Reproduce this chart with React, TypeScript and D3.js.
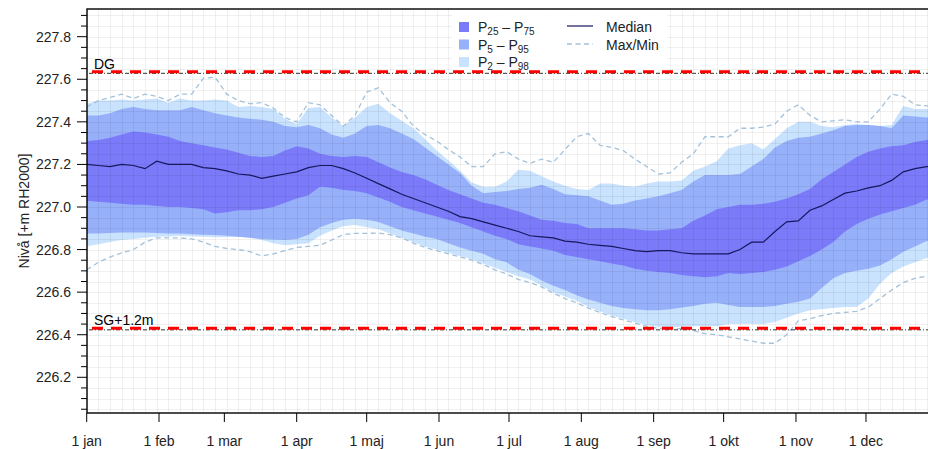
import React, { useRef, useEffect } from 'react';
import * as d3 from 'd3';

// day of year (0 = 1 jan), one sample every 5 days
const days = [
  0, 5, 10, 15, 20, 25, 30, 35, 40, 45, 50, 55, 60, 65, 70, 75, 80, 85, 90, 95,
  100, 105, 110, 115, 120, 125, 130, 135, 140, 145, 150, 155, 160, 165, 170, 175, 180, 185, 190, 195,
  200, 205, 210, 215, 220, 225, 230, 235, 240, 245, 250, 255, 260, 265, 270, 275, 280, 285, 290, 295,
  300, 305, 310, 315, 320, 325, 330, 335, 340, 345, 350, 355, 360, 365,
];

const median = [
  227.2, 227.195, 227.19, 227.2, 227.195, 227.18, 227.215, 227.2, 227.2, 227.2,
  227.185, 227.18, 227.17, 227.155, 227.15, 227.135, 227.145, 227.155, 227.165, 227.185,
  227.195, 227.195, 227.18, 227.16, 227.135, 227.11, 227.085, 227.06, 227.04, 227.02,
  227.0, 226.98, 226.955, 226.945, 226.93, 226.915, 226.9, 226.885, 226.865, 226.86,
  226.855, 226.84, 226.835, 226.825, 226.82, 226.815, 226.805, 226.795, 226.79, 226.795,
  226.795, 226.785, 226.78, 226.78, 226.78, 226.78, 226.8, 226.835, 226.835, 226.885,
  226.93, 226.935, 226.985, 227.005, 227.035, 227.065, 227.075, 227.09, 227.1, 227.125,
  227.165, 227.18, 227.19, 227.19,
];

const p75 = [
  227.31, 227.315, 227.325, 227.34, 227.355, 227.35, 227.34, 227.33, 227.31, 227.3,
  227.29, 227.28, 227.27, 227.255, 227.24, 227.235, 227.24, 227.265, 227.285, 227.275,
  227.25, 227.24, 227.235, 227.24, 227.235, 227.21, 227.185, 227.165, 227.15, 227.13,
  227.105, 227.08, 227.06, 227.04, 227.02, 227.01, 226.995, 226.98, 226.96, 226.94,
  226.935, 226.925, 226.92, 226.9, 226.9, 226.9, 226.9, 226.895, 226.89, 226.89,
  226.895, 226.9, 226.935, 226.96, 226.99, 227.0, 227.01, 227.01, 227.015, 227.025,
  227.04, 227.06, 227.085, 227.13, 227.165, 227.2, 227.235, 227.26, 227.275, 227.285,
  227.29, 227.305, 227.315, 227.32,
];

const p25 = [
  227.03, 227.025, 227.02, 227.015, 227.01, 227.01, 227.005, 227.0, 227.0, 226.995,
  226.99, 226.97, 226.975, 226.985, 226.985, 226.99, 227.0, 227.02, 227.04, 227.055,
  227.095, 227.09, 227.08, 227.075, 227.065, 227.045, 227.025, 227.0, 226.985, 226.97,
  226.955, 226.94, 226.925, 226.905, 226.885, 226.865, 226.85, 226.825, 226.815, 226.805,
  226.795, 226.775, 226.765, 226.755, 226.745, 226.735, 226.725, 226.71, 226.7, 226.695,
  226.69, 226.68, 226.675, 226.67, 226.675, 226.69, 226.685, 226.69, 226.695, 226.705,
  226.72, 226.745, 226.77, 226.8, 226.835, 226.885, 226.92, 226.945, 226.965, 226.98,
  226.995, 227.01, 227.035, 227.04,
];

const p95 = [
  227.43, 227.43, 227.44, 227.46, 227.47, 227.46, 227.455, 227.455, 227.455, 227.47,
  227.455, 227.44, 227.43, 227.42, 227.415, 227.41, 227.4, 227.38, 227.375, 227.385,
  227.37, 227.34, 227.325, 227.345, 227.38, 227.385, 227.37, 227.345, 227.32, 227.28,
  227.24, 227.2, 227.16, 227.1, 227.065, 227.07, 227.075, 227.085, 227.09, 227.105,
  227.085, 227.06, 227.055, 227.05, 227.03, 227.01, 227.015, 227.03, 227.04, 227.05,
  227.065, 227.08, 227.12, 227.15, 227.15, 227.15, 227.155, 227.19, 227.225, 227.28,
  227.31, 227.325, 227.33, 227.345, 227.36, 227.38, 227.385, 227.385, 227.38, 227.37,
  227.43, 227.425, 227.42, 227.42,
];

const p5 = [
  226.875, 226.875, 226.878, 226.88, 226.88, 226.88, 226.878, 226.875, 226.875, 226.872,
  226.87, 226.868, 226.865, 226.86, 226.855, 226.85, 226.847, 226.845, 226.85, 226.87,
  226.905, 226.925, 226.94, 226.945, 226.94, 226.93, 226.91, 226.89, 226.875, 226.86,
  226.85, 226.83, 226.81, 226.795, 226.78, 226.755, 226.74, 226.705, 226.685, 226.655,
  226.63, 226.61, 226.585, 226.565, 226.55, 226.535, 226.525, 226.52, 226.515, 226.515,
  226.52, 226.528, 226.535, 226.545, 226.55, 226.54, 226.53, 226.53, 226.53, 226.535,
  226.545, 226.555, 226.57, 226.62, 226.665, 226.69, 226.7, 226.71, 226.725, 226.755,
  226.79, 226.815, 226.84, 226.85,
];

const p98 = [
  227.485, 227.5, 227.5, 227.505, 227.5, 227.505, 227.51, 227.49, 227.51, 227.5,
  227.5, 227.505, 227.5, 227.47, 227.475, 227.47, 227.46, 227.415, 227.39, 227.465,
  227.47, 227.42, 227.38, 227.42, 227.47, 227.485, 227.44, 227.405, 227.37, 227.32,
  227.265, 227.22, 227.17, 227.115, 227.095, 227.095, 227.12, 227.175, 227.17, 227.145,
  227.12, 227.1, 227.085, 227.08, 227.11, 227.11, 227.1, 227.095, 227.11, 227.12,
  227.12, 227.125, 227.17, 227.19, 227.215, 227.275, 227.29, 227.3, 227.27, 227.32,
  227.37, 227.4, 227.4, 227.38, 227.375, 227.385, 227.39, 227.385, 227.38, 227.385,
  227.475, 227.46, 227.46, 227.46,
];

const p2 = [
  226.815, 226.825, 226.835, 226.845, 226.85, 226.855, 226.86, 226.862, 226.865, 226.862,
  226.86, 226.858, 226.858, 226.86, 226.855, 226.845, 226.83, 226.82, 226.825, 226.83,
  226.865, 226.89, 226.91, 226.915, 226.905, 226.895, 226.875, 226.855, 226.835, 226.815,
  226.8, 226.785, 226.77, 226.755, 226.735, 226.715, 226.695, 226.675, 226.66, 226.63,
  226.6, 226.58, 226.56, 226.53, 226.51, 226.49, 226.475, 226.46, 226.445, 226.437,
  226.435, 226.437, 226.44, 226.44, 226.44, 226.45, 226.45, 226.45, 226.45, 226.46,
  226.48, 226.5, 226.515, 226.52, 226.525, 226.53, 226.53, 226.57, 226.64, 226.69,
  226.72, 226.74, 226.76, 226.765,
];

const maxLevel = [
  227.47, 227.5, 227.515, 227.53, 227.51, 227.53, 227.52, 227.5, 227.53, 227.53,
  227.605, 227.61, 227.53, 227.5, 227.485, 227.49, 227.465, 227.42, 227.4, 227.49,
  227.48, 227.43, 227.38, 227.43, 227.54, 227.56, 227.49, 227.45, 227.38, 227.34,
  227.31, 227.27, 227.235, 227.19, 227.19, 227.25, 227.26, 227.225, 227.205, 227.225,
  227.21, 227.27, 227.33, 227.345, 227.29, 227.28, 227.265, 227.225, 227.19, 227.155,
  227.16, 227.21, 227.25, 227.33, 227.33, 227.33, 227.37, 227.37, 227.375, 227.39,
  227.45, 227.48, 227.43, 227.4, 227.405, 227.41, 227.4, 227.4, 227.46, 227.53,
  227.52, 227.48, 227.475, 227.47,
];

const minLevel = [
  226.705, 226.74, 226.765, 226.785, 226.8, 226.835, 226.855, 226.855, 226.855, 226.85,
  226.835, 226.815, 226.805, 226.8, 226.79, 226.77, 226.78, 226.795, 226.81, 226.815,
  226.82, 226.845, 226.87, 226.876, 226.876, 226.878, 226.87, 226.855, 226.83, 226.81,
  226.795, 226.78, 226.765, 226.75, 226.73, 226.705, 226.685, 226.66, 226.645, 226.625,
  226.595, 226.57, 226.55, 226.525, 226.505, 226.485, 226.47, 226.455, 226.44, 226.43,
  226.425, 226.43, 226.42, 226.405, 226.4, 226.39, 226.38, 226.37, 226.36, 226.36,
  226.4, 226.465, 226.475, 226.49, 226.5, 226.505, 226.51, 226.53, 226.57, 226.61,
  226.645, 226.665, 226.675, 226.68,
];

const monthStarts = [0, 31, 59, 90, 120, 151, 181, 212, 243, 273, 304, 334];
const monthLabels = ['1 jan', '1 feb', '1 mar', '1 apr', '1 maj', '1 jun', '1 jul', '1 aug', '1 sep', '1 okt', '1 nov', '1 dec'];
const yTicks = [226.2, 226.4, 226.6, 226.8, 227.0, 227.2, 227.4, 227.6, 227.8];

const DG = 227.635;
const SG12 = 226.43;

const FONT = 'Liberation Sans, Arial, Helvetica, sans-serif';
const C_DARK = '#7b7bfa';
const C_MID = '#97b0fa';
const C_LIGHT = '#c9e2fd';
const C_MEDIAN = '#17175e';
const C_MAXMIN = '#a3c1da';

const App = () => {
  const svgRef = useRef<SVGSVGElement>(null);

  useEffect(() => {
    drawChart();
  }, []);

  const drawChart = () => {
    const svg = d3.select(svgRef.current);
    svg.selectAll('*').remove();

    const left = 87, top = 9, bottom = 413, right = 945;

    const x = d3.scaleLinear().domain([0, 365]).range([86.7, 938.3]);
    const y = d3.scaleLinear().domain([226.2, 227.8]).range([377.3, 36.7]);

    svg.append('defs').append('clipPath').attr('id', 'plotclip')
      .append('rect').attr('x', left).attr('y', top).attr('width', right - left).attr('height', bottom - top);

    svg.append('rect').attr('x', left).attr('y', top).attr('width', right - left).attr('height', bottom - top)
      .attr('fill', '#fff');

    const plot = svg.append('g').attr('clip-path', 'url(#plotclip)');

    // bands
    const band = (lo: number[], hi: number[]) => d3.area<number>()
      .x((d) => x(d))
      .y0((d, i) => y(lo[i]))
      .y1((d, i) => y(hi[i]))(days);

    plot.append('path').attr('d', band(p2, p98)).attr('fill', C_LIGHT);
    plot.append('path').attr('d', band(p5, p95)).attr('fill', C_MID);
    plot.append('path').attr('d', band(p25, p75)).attr('fill', C_DARK);

    // grid on top, very faint
    const grid = plot.append('g').attr('stroke', '#000').attr('stroke-opacity', 0.06).attr('stroke-width', 1);
    for (let d = 0; d <= 365; d += 5) {
      grid.append('line').attr('x1', Math.round(x(d)) + 0.5).attr('x2', Math.round(x(d)) + 0.5)
        .attr('y1', top).attr('y2', bottom);
    }
    for (let i = 1; i <= 38; i++) {
      const v = 226 + i * 0.05;
      grid.append('line').attr('y1', Math.round(y(v)) + 0.5).attr('y2', Math.round(y(v)) + 0.5)
        .attr('x1', left).attr('x2', right);
    }

    const line = (vals: number[]) => d3.line<number>()
      .x((d) => x(d))
      .y((d, i) => y(vals[i]))(days);

    plot.append('path').attr('d', line(maxLevel)).attr('fill', 'none')
      .attr('stroke', C_MAXMIN).attr('stroke-width', 1.3).attr('stroke-dasharray', '5,3.5');
    plot.append('path').attr('d', line(minLevel)).attr('fill', 'none')
      .attr('stroke', C_MAXMIN).attr('stroke-width', 1.3).attr('stroke-dasharray', '5,3.5');
    plot.append('path').attr('d', line(median)).attr('fill', 'none')
      .attr('stroke', C_MEDIAN).attr('stroke-width', 1.2);

    // reference levels
    [DG, SG12].forEach((lvl) => {
      plot.append('line').attr('x1', left + 2).attr('x2', right).attr('y1', y(lvl) + 1.5).attr('y2', y(lvl) + 1.5)
        .attr('stroke', '#333').attr('stroke-width', 1).attr('stroke-dasharray', '4,2,1,2');
      plot.append('line').attr('x1', left + 5).attr('x2', right).attr('y1', y(lvl)).attr('y2', y(lvl))
        .attr('stroke', '#ff0000').attr('stroke-width', 3).attr('stroke-dasharray', '11,8');
    });

    plot.append('text').attr('x', left + 7).attr('y', y(DG) - 3).text('DG')
      .attr('font-family', FONT).attr('font-size', 14).attr('fill', '#000');
    plot.append('text').attr('x', left + 7).attr('y', y(SG12) - 3).text('SG+1.2m')
      .attr('font-family', FONT).attr('font-size', 14).attr('fill', '#000');

    // frame
    svg.append('rect').attr('x', left).attr('y', top).attr('width', right - left).attr('height', bottom - top)
      .attr('fill', 'none').attr('stroke', '#000').attr('stroke-width', 1.4);

    // y axis ticks
    const yAxis = svg.append('g');
    for (let i = 1; i <= 38; i++) {
      const v = 226 + i * 0.05;
      const major = i % 4 === 0;
      yAxis.append('line').attr('x1', major ? left - 10 : left - 6).attr('x2', left)
        .attr('y1', y(v)).attr('y2', y(v)).attr('stroke', '#000').attr('stroke-width', 1);
    }
    yAxis.selectAll('text.ytick').data(yTicks).enter().append('text')
      .attr('class', 'ytick')
      .attr('x', left - 16).attr('y', (d) => y(d)).attr('dy', '0.36em')
      .attr('text-anchor', 'end').attr('font-family', FONT).attr('font-size', 14).attr('fill', '#222')
      .text((d) => d.toFixed(1));

    svg.append('text')
      .attr('transform', `translate(29,${(top + bottom) / 2}) rotate(-90)`)
      .attr('text-anchor', 'middle').attr('font-family', FONT).attr('font-size', 14).attr('fill', '#222')
      .text('Nivå [+m RH2000]');

    // x axis
    const xAxis = svg.append('g');
    monthStarts.forEach((d, i) => {
      xAxis.append('line').attr('x1', x(d)).attr('x2', x(d)).attr('y1', bottom).attr('y2', bottom + 9)
        .attr('stroke', '#000').attr('stroke-width', 1);
      xAxis.append('text').attr('x', x(d)).attr('y', bottom + 33).attr('text-anchor', 'middle')
        .attr('font-family', FONT).attr('font-size', 14).attr('fill', '#222').text(monthLabels[i]);
    });

    // legend
    const lg = svg.append('g');
    lg.append('rect').attr('x', 452).attr('y', 10).attr('width', 215).attr('height', 60)
      .attr('fill', '#fff').attr('fill-opacity', 0.9);
    const rows = [
      { c: C_DARK, a: '25', b: '75' },
      { c: C_MID, a: '5', b: '95' },
      { c: C_LIGHT, a: '2', b: '98' },
    ];
    rows.forEach((r, i) => {
      const cy = 27 + i * 17.5;
      lg.append('rect').attr('x', 459).attr('y', cy - 5).attr('width', 10).attr('height', 10).attr('fill', r.c);
      const t = lg.append('text').attr('x', 478).attr('y', cy + 5)
        .attr('font-family', FONT).attr('font-size', 14).attr('fill', '#222');
      t.append('tspan').text('P');
      t.append('tspan').attr('font-size', 10).attr('dy', 3).text(r.a);
      t.append('tspan').attr('dy', -3).text(' \u2013 P');
      t.append('tspan').attr('font-size', 10).attr('dy', 3).text(r.b);
    });
    lg.append('line').attr('x1', 567).attr('x2', 593).attr('y1', 26).attr('y2', 26)
      .attr('stroke', C_MEDIAN).attr('stroke-width', 1.2);
    lg.append('line').attr('x1', 567).attr('x2', 593).attr('y1', 44).attr('y2', 44)
      .attr('stroke', C_MAXMIN).attr('stroke-width', 1.3).attr('stroke-dasharray', '5,3.5');
    lg.append('text').attr('x', 606).attr('y', 32).attr('font-family', FONT).attr('font-size', 14)
      .attr('fill', '#222').text('Median');
    lg.append('text').attr('x', 606).attr('y', 49.5).attr('font-family', FONT).attr('font-size', 14)
      .attr('fill', '#222').text('Max/Min');
  };

  return (
    <div style={{ position: 'absolute', left: 0, top: 0 }}>
      <svg ref={svgRef} width={928} height={449} style={{ display: 'block' }}></svg>
    </div>
  );
};

export default App;
